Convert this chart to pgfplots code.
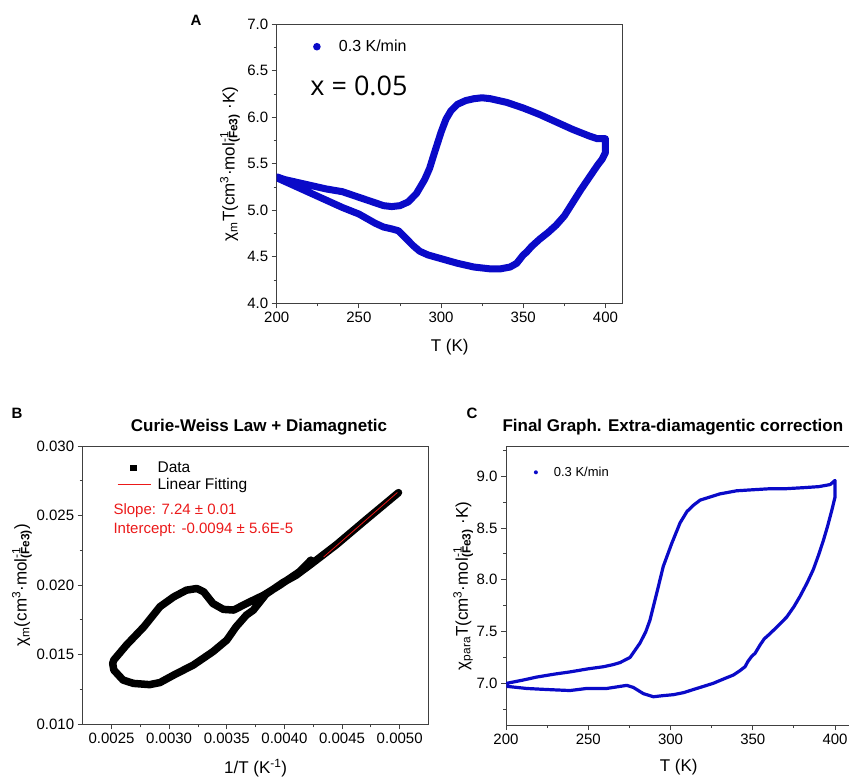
\documentclass[border=0pt]{standalone}
\usepackage{fontspec}
\setmainfont{Liberation Sans}
\newfontfamily\osans{Open Sans}
\usepackage{pgfplots}
\pgfplotsset{compat=1.18}
\definecolor{dblue}{RGB}{10,10,200}
\definecolor{fitred}{RGB}{235,25,25}
\pgfplotsset{
  panel/.style={
    scale only axis, anchor=south west,
    axis line style={black!75, line width=0.9pt},
    tick style={black!75, line width=0.9pt},
    tick align=outside, tick pos=left,
    major tick length=5pt, minor tick length=3pt,
    tick label style={font=\fontsize{15}{18}\selectfont},
    label style={font=\fontsize{17}{20}\selectfont},
    /pgf/number format/assume math mode=true,
    xlabel style={at={(axis description cs:0.5,-0.157)}, anchor=center},
    legend cell align=left,
  },
}
\begin{document}
\begin{tikzpicture}[x=1pt,y=1pt]
\path[use as bounding box] (0,0) rectangle (849,-778);

% panel A
\begin{axis}[panel, at={(276.7pt,-303.3pt)}, width=346pt, height=279pt,
  xmin=200, xmax=410.5, ymin=4, ymax=7,
  xtick={200,250,...,400}, minor xtick={225,275,...,375},
  ytick={4,4.5,...,7}, minor ytick={4.25,4.75,...,6.75},
  yticklabel style={/pgf/number format/.cd,fixed,fixed zerofill,precision=1},
  xlabel={T (K)},
  ylabel={χ\textsubscript{m}T(cm\textsuperscript{3}·mol\rlap{\textsuperscript{-1}}\textsubscript{\textbf{(Fe3)}} ·K)},
  ylabel style={at={(axis description cs:-0.135,0.5)}, anchor=center},
  legend style={at={(axis description cs:0.0925,0.9197)}, anchor=west, draw=none, fill=none,
    inner sep=0pt, font=\fontsize{16}{19}\selectfont, nodes={inner sep=2pt}},
]
\addplot[dblue, line width=7pt, line join=round, line cap=round,
  legend image code/.code={\path[draw=none,fill=none] (0pt,-4pt) rectangle (28pt,4pt);
    \fill[draw=none] (8pt,0pt) circle (3.8pt);}]
  coordinates {
  (200,5.36) (205,5.33) (210,5.31) (220,5.27) (230,5.23) (240,5.20) (250,5.14)
  (260,5.08) (265,5.05) (270,5.04) (275,5.05) (280,5.09) (285,5.18) (290,5.33)
  (293,5.45) (296,5.62) (300,5.84) (303,5.98) (306,6.07) (310,6.14) (315,6.18)
  (320,6.20) (325,6.21) (330,6.20) (340,6.16) (350,6.10) (360,6.03) (370,5.95)
  (380,5.87) (390,5.80) (395,5.77) (400,5.77) (400,5.62)
  (398,5.55) (395,5.48) (390,5.35) (385,5.22) (380,5.08) (375,4.94) (370,4.84)
  (365,4.76) (360,4.69) (355,4.61) (352,4.55) (350,4.52) (346,4.43) (342,4.39)
  (336,4.37) (330,4.37) (320,4.39) (310,4.43) (300,4.48) (292,4.52) (287,4.56)
  (283,4.62) (278,4.71) (274,4.78) (270,4.80) (265,4.82) (260,4.86) (250,4.96)
  (240,5.03) (230,5.11) (220,5.19) (210,5.27) (200,5.35)
  };
\addlegendentry{0.3 K/min}
\end{axis}

% panel B
\begin{axis}[panel, at={(82.7pt,-724.3pt)}, width=345.8pt, height=278.3pt,
  xmin=0.00225, xmax=0.00525, ymin=0.010, ymax=0.030,
  scaled x ticks=false, scaled y ticks=false,
  xtick={0.0025,0.003,0.0035,0.004,0.0045,0.005},
  minor xtick={0.00275,0.00325,0.00375,0.00425,0.00475},
  ytick={0.010,0.015,0.020,0.025,0.030},
  minor ytick={0.0125,0.0175,0.0225,0.0275},
  xticklabel style={/pgf/number format/.cd,fixed,fixed zerofill,precision=4},
  yticklabel style={/pgf/number format/.cd,fixed,fixed zerofill,precision=3},
  xlabel={1/T (K\textsuperscript{-1})},
  ylabel={χ\textsubscript{m}(cm\textsuperscript{3}·mol\rlap{\textsuperscript{-1}}\textsubscript{\textbf{(Fe3)}})},
  ylabel style={at={(axis description cs:-0.1755,0.5)}, anchor=center},
  title={Curie-Weiss Law + Diamagnetic},
  title style={at={(axis description cs:0.51,1.0467)}, anchor=center,
    font=\bfseries\fontsize{17}{20}\selectfont},
  legend style={at={(axis description cs:0.0992,0.8904)}, anchor=west, draw=none, fill=none,
    inner sep=0pt, font=\fontsize{15.5}{18}\selectfont, nodes={inner sep=2pt}},
]
\addplot[black, line width=7.5pt, line join=round, line cap=round,
  legend image code/.code={\path[draw=none,fill=none] (0pt,-4pt) rectangle (38pt,4pt);
    \fill[draw=none] (12.8pt,-3.2pt) rectangle (19.2pt,3.2pt);}]
  coordinates {
  (0.00499,0.02665) (0.00470,0.02465) (0.00445,0.02290) (0.00423,0.02150)
  (0.00410,0.02070) (0.00399,0.02020) (0.00384,0.01935) (0.00373,0.01820)
  (0.00367,0.01785) (0.00358,0.01700) (0.00350,0.01605) (0.00338,0.01522)
  (0.00321,0.01426) (0.00304,0.01354) (0.00292,0.01300) (0.00283,0.01285)
  (0.00269,0.01294) (0.00260,0.01318) (0.00252,0.01390) (0.00251,0.01438)
  (0.00252,0.01462) (0.00263,0.01570) (0.00278,0.01700) (0.00292,0.01845)
  (0.00304,0.01916) (0.00315,0.01964) (0.00324,0.01976) (0.00330,0.01952)
  (0.00338,0.01868) (0.00347,0.01826) (0.00356,0.01821) (0.00367,0.01868)
  (0.00382,0.01928) (0.00396,0.02000) (0.00413,0.02096) (0.00423,0.02180)
  };
\addlegendentry{Data}
\addplot[fitred, line width=0.8pt,
  legend image code/.code={\path[draw=none,fill=none] (0pt,-4pt) rectangle (38pt,4pt);
    \draw (0pt,0pt) -- (33pt,0pt);}]
  coordinates {(0.00434,0.02202) (0.00498,0.02666)};
\addlegendentry{Linear Fitting}
\end{axis}

% panel C
\begin{axis}[panel, at={(506pt,-725pt)}, width=345.5pt, height=278.3pt,
  xmin=200, xmax=410, ymin=6.597, ymax=9.286,
  xtick={200,250,...,400}, minor xtick={225,275,...,375},
  ytick={7,7.5,...,9}, minor ytick={6.75,7.25,...,9.25},
  yticklabel style={/pgf/number format/.cd,fixed,fixed zerofill,precision=1},
  xlabel={T (K)},
  xlabel style={at={(axis description cs:0.5,-0.151)}, anchor=center},
  ylabel={χ\textsubscript{para}T(cm\textsuperscript{3}·mol\rlap{\textsuperscript{-1}}\textsubscript{\textbf{(Fe3)}} ·K)},
  ylabel style={at={(axis description cs:-0.124,0.5)}, anchor=center},
  title={Final Graph. Extra-diamagentic correction},
  title style={at={(axis description cs:0.483,1.049)}, anchor=center,
    font=\bfseries\fontsize{17}{20}\selectfont},
  legend style={at={(axis description cs:0.0686,0.908)}, anchor=west, draw=none, fill=none,
    inner sep=0pt, font=\fontsize{13}{16}\selectfont, nodes={inner sep=2pt}},
]
\addplot[dblue, line width=3.2pt, line join=round, line cap=round,
  legend image code/.code={\path[draw=none,fill=none] (0pt,-4pt) rectangle (22pt,4pt);
    \fill[draw=none] (6pt,0pt) circle (2pt);}]
  coordinates {
  (200.5,7.00) (210,7.03) (218.6,7.06) (230,7.09) (238.9,7.11) (250,7.14)
  (259.2,7.16) (265,7.18) (269.3,7.20) (275.4,7.25) (281.5,7.39) (285,7.50)
  (287.5,7.61) (291.6,7.87) (295.6,8.13) (300.7,8.35) (305.8,8.55) (310,8.66)
  (313.9,8.72) (318,8.77) (324,8.80) (330,8.83) (340.2,8.86) (350,8.87)
  (360.5,8.88) (370,8.88) (380.7,8.89) (390,8.90) (397,8.92) (400,8.96) (400,8.80)
  (398,8.67) (395.5,8.52) (392.9,8.38) (390,8.24) (386.8,8.10) (383,7.97)
  (378.7,7.84) (375,7.74) (370.6,7.64) (365,7.55) (360.5,7.48) (357,7.43)
  (354.4,7.37) (351.4,7.29) (349.3,7.26) (347,7.21) (345.3,7.16) (342,7.12)
  (338.2,7.08) (332,7.04) (326,7.00) (320,6.97) (313.9,6.94) (308,6.91)
  (301.7,6.89) (295,6.88) (289.6,6.87) (283.5,6.90) (277.4,6.96) (273.4,6.98)
  (269.3,6.97) (261.2,6.95) (249,6.95) (238.9,6.93) (224.7,6.94) (212.6,6.95)
  (200.8,6.97)
  };
\addlegendentry{0.3 K/min}
\end{axis}

% panel letters and annotations
\node[font=\bfseries\fontsize{15}{18}\selectfont] at (196,-20.5) {A};
\node[font=\bfseries\fontsize{15}{18}\selectfont] at (17,-413.5) {B};
\node[font=\bfseries\fontsize{15}{18}\selectfont] at (472,-413) {C};
\node[font=\osans\fontsize{27}{30}\selectfont] at (359,-86) {x = 0.05};
\node[anchor=base west, inner sep=0pt, text=fitred, font=\fontsize{15}{18}\selectfont]
  at (113.3,-514) {Slope: 7.24 ± 0.01};
\node[anchor=base west, inner sep=0pt, text=fitred, font=\fontsize{15}{18}\selectfont]
  at (113.3,-533.3) {Intercept: -0.0094 ± 5.6E-5};
\end{tikzpicture}
\end{document}
